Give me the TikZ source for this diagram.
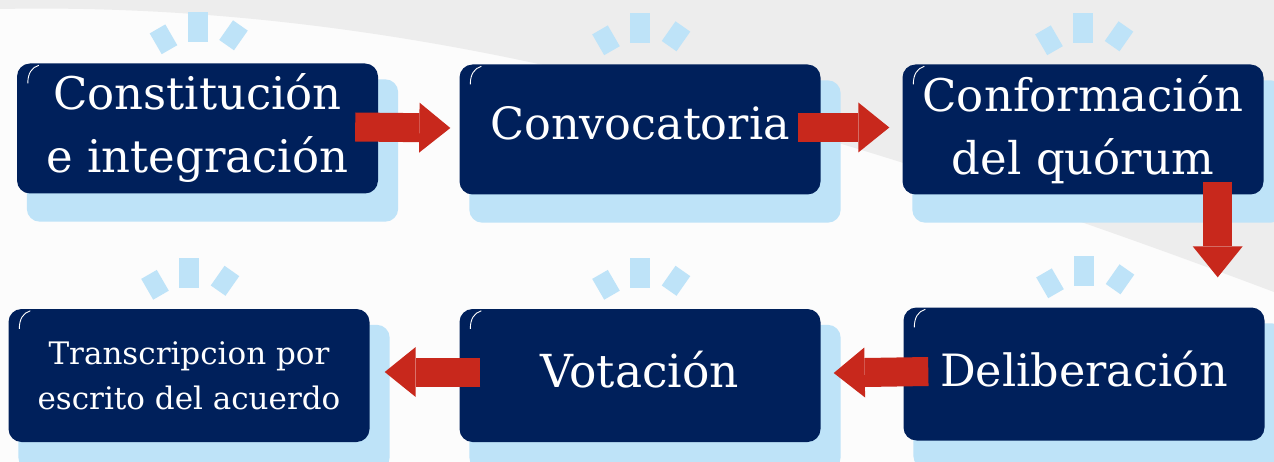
\documentclass[tikz,border=0pt]{standalone}
\usepackage{fontspec}
\setmainfont{DejaVu Serif}
\usetikzlibrary{arrows.meta,calc}
\definecolor{navy}{HTML}{00205B}
\definecolor{skyb}{HTML}{BEE3F8}
\definecolor{redar}{HTML}{C8281C}
\definecolor{bggray}{HTML}{EDEDED}
\definecolor{bgwhite}{HTML}{FCFCFC}
\pgfdeclarelayer{bg}
\pgfdeclarelayer{shade}
\pgfsetlayers{bg,shade,main}
\begin{document}
\begin{tikzpicture}[x=1pt,y=-1pt,
  stepbox/.style={fill=navy, rounded corners=13pt, minimum width=361pt, minimum height=130pt,
    text=white, align=center, inner sep=0pt},
  big/.style={font=\fontsize{45}{63}\selectfont},
  small/.style={font=\fontsize{31}{45}\selectfont},
  flow/.style={draw=redar, line width=29pt, -{Triangle[length=31pt,width=50pt,line width=0pt]}},
  rays/.pic={
    \fill[skyb] (-10,-15) rectangle (10,15);
    \fill[skyb,shift={(-34,12)},rotate=30] (-9,-12) rectangle (9,12);
    \fill[skyb,shift={(36,8)},rotate=-35] (-9,-12) rectangle (9,12);
  }
]
\useasboundingbox (0,0) rectangle (1274,462);
\begin{pgfonlayer}{bg}
  \fill[bgwhite] (0,0) rectangle (1274,462);
  \fill[bggray] (0,0) -- (0,9) .. controls (200,5) and (400,30) .. (600,78)
     .. controls (750,115) and (950,170) .. (1274,292) -- (1274,0) -- cycle;
\end{pgfonlayer}

\node[stepbox,big] (b1) at (197.5,128.5) {Constitución\\e integración};
\node[stepbox,big,font=\fontsize{44.5}{63}\selectfont,text height=21pt,text depth=0pt] (b2) at (640,129.5) {Convocatoria};
\node[stepbox,big] (b3) at (1083,129.5) {Conformación\\del quórum};
\node[stepbox,small,minimum height=133pt] (b4) at (189,375.5) {Transcripcion por\\escrito del acuerdo};
\node[stepbox,big,font=\fontsize{45.5}{63}\selectfont,minimum height=133pt,text height=24pt,text depth=0pt] (b5) at (640,375.5) {Votación};
\node[stepbox,big,font=\fontsize{44.5}{63}\selectfont,minimum height=133pt,text height=24pt,text depth=0pt] (b6) at (1084,374) {Deliberación};

\begin{pgfonlayer}{shade}
  \foreach \n in {b1,b2,b3,b4,b5,b6}
    \fill[skyb, rounded corners=13pt] ($(\n.north west)+(10,16)$) rectangle ($(\n.south east)+(20,28)$);
\end{pgfonlayer}

\foreach \n in {b1,b2,b3,b4,b5,b6} {
  \pic at ($(\n.north)+(0,-36)$) {rays};
  \draw[white, line width=0.9pt] ($(\n.north west)+(11,20)$) .. controls ($(\n.north west)+(11,10)$) and ($(\n.north west)+(15,4)$) .. ($(\n.north west)+(22,2)$);
}

\coordinate (a3end) at ($(b6.north east)+(-47,-30)$);
\draw[flow] ($(b1.east)+(-23,-1.5)$) -- ($(b2.west)+(-9,-1.5)$);
\draw[flow] ($(b2.east)+(-23,-2)$) -- ($(b3.west)+(-13,-2)$);
\draw[flow] ($(b3.south east)+(-46,-13)$) -- (a3end);
\draw[flow] ($(b6.west)+(25,-2.5)$) -- ($(b5.east)+(13,-2.5)$);
\draw[flow] ($(b5.west)+(21,-3.5)$) -- ($(b4.east)+(15,-3.5)$);
\end{tikzpicture}
\end{document}
